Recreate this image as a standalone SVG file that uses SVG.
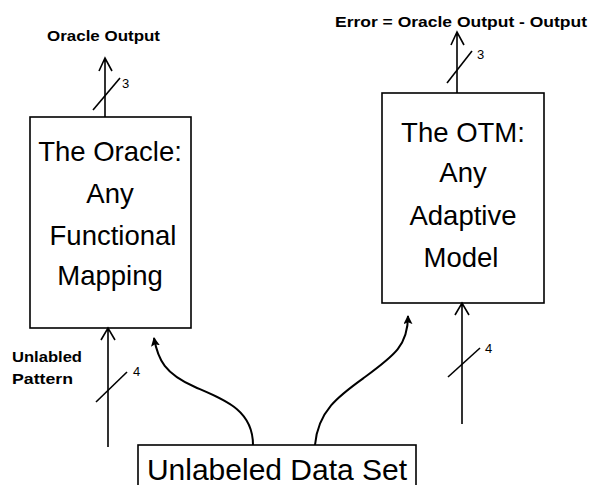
<svg xmlns="http://www.w3.org/2000/svg" width="591" height="485" viewBox="0 0 591 485">
  <style>
    .box { fill: #fff; stroke: #000; stroke-width: 1.6; }
    .line { fill: none; stroke: #000; stroke-width: 1.6; }
    .curve { fill: none; stroke: #000; stroke-width: 2; }
    .big { font-family: "Liberation Sans", Arial, sans-serif; font-size: 27.5px; text-anchor: middle; fill: #000; }
    .small { font-family: "Liberation Sans", Arial, sans-serif; font-size: 15px; font-weight: bold; fill: #000; }
    .num { font-family: "Liberation Sans", Arial, sans-serif; font-size: 13px; fill: #000; }
  </style>
  <defs>
    <marker id="solid" viewBox="0 0 10 10" refX="9" refY="5" markerWidth="9" markerHeight="9" markerUnits="userSpaceOnUse" orient="auto">
      <path d="M0,0 L10,5 L0,10 L2,5 z" fill="#000"/>
    </marker>
  </defs>

  <!-- Oracle block -->
  <g id="oracle">
    <rect class="box" x="30" y="117" width="161" height="211"/>
    <text class="big" x="110" y="161">The Oracle:</text>
    <text class="big" x="110" y="203">Any</text>
    <text class="big" x="113" y="245">Functional</text>
    <text class="big" x="110" y="285">Mapping</text>
  </g>

  <!-- OTM block -->
  <g id="otm">
    <rect class="box" x="382" y="93" width="162" height="210"/>
    <text class="big" x="463" y="142">The OTM:</text>
    <text class="big" x="463" y="182">Any</text>
    <text class="big" x="463" y="225">Adaptive</text>
    <text class="big" x="461" y="267">Model</text>
  </g>

  <!-- Data set block -->
  <g id="dataset">
    <rect class="box" x="138" y="445" width="278" height="50"/>
    <text class="big" x="277" y="480" style="font-size:30px">Unlabeled Data Set</text>
  </g>

  <!-- Labels -->
  <g id="labels">
    <text class="small" x="47" y="41" textLength="113" lengthAdjust="spacingAndGlyphs">Oracle Output</text>
    <text class="small" x="335" y="27" textLength="252" lengthAdjust="spacingAndGlyphs">Error = Oracle Output - Output</text>
    <text class="small" x="12" y="362" textLength="70" lengthAdjust="spacingAndGlyphs">Unlabled</text>
    <text class="small" x="12" y="384" textLength="61" lengthAdjust="spacingAndGlyphs">Pattern</text>
    <text class="num" x="122" y="88">3</text>
    <text class="num" x="477" y="59">3</text>
    <text class="num" x="133" y="376">4</text>
    <text class="num" x="485" y="353">4</text>
  </g>

  <!-- Connectors -->
  <g id="connectors">
    <!-- oracle output bus (width 3) -->
    <path class="line" d="M105,117 V58 M99,71 L105,58 L112,71"/>
    <path class="line" d="M93,110 L120,78"/>
    <!-- OTM error bus (width 3) -->
    <path class="line" d="M457,93 V32 M451,45 L457,32 L464,45"/>
    <path class="line" d="M447,83 L472,51"/>
    <!-- pattern input to oracle (width 4) -->
    <path class="line" d="M108,447 V328 M101,340 L108,328 L115,340"/>
    <path class="line" d="M96,402 L127,372"/>
    <!-- pattern input to OTM (width 4) -->
    <path class="line" d="M462,424 V303 M455,315 L462,303 L469,315"/>
    <path class="line" d="M448,377 L480,348"/>
    <!-- data set feeds -->
    <path class="curve" d="M253,445 C253,410 225,400 195,387 C165,374 158,360 154,338" marker-end="url(#solid)"/>
    <path class="curve" d="M315,445 C318,410 340,395 365,377 C395,355 408,345 408,316" marker-end="url(#solid)"/>
  </g>
</svg>
